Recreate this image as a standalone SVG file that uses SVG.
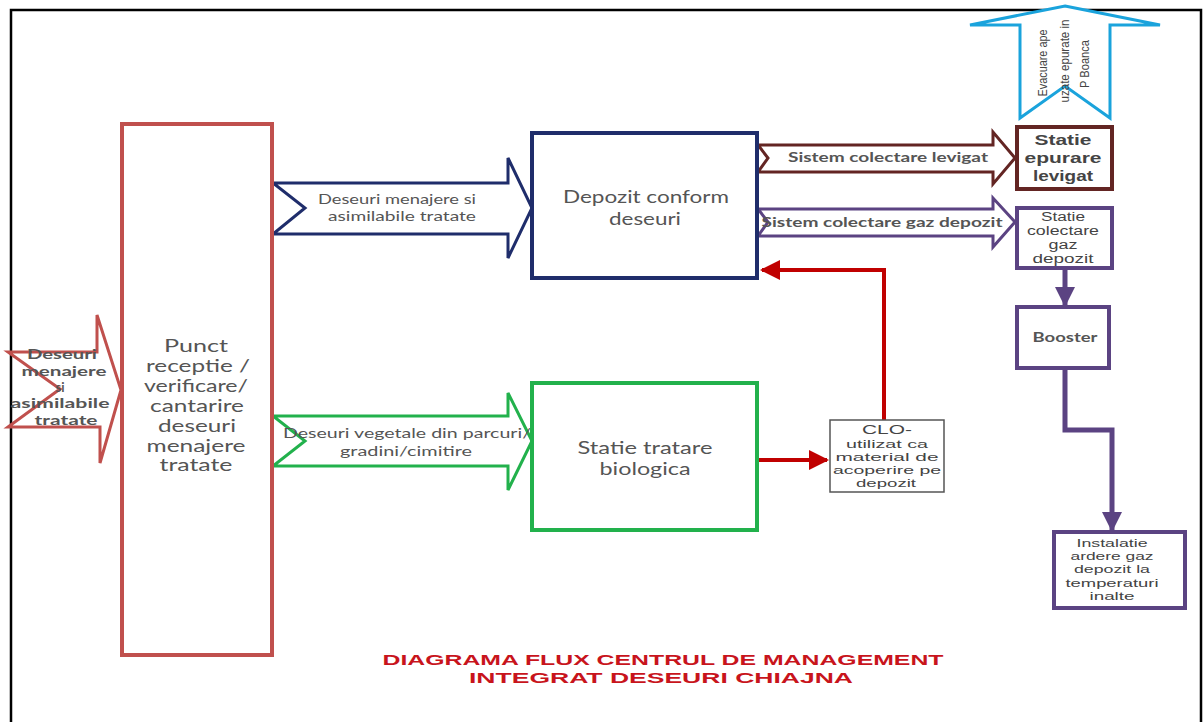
<svg xmlns="http://www.w3.org/2000/svg" width="1204" height="722" viewBox="0 0 1204 722">
<defs>
<style>
.lt{font-family:Lato,"Open Sans",sans-serif;fill:#555;text-anchor:middle}
.ar{font-family:"Liberation Sans",Arial,sans-serif;fill:#444;text-anchor:middle}
.box{fill:#fff;stroke-width:4}
.flow{fill:#fff;stroke-width:3;stroke-linejoin:miter}
.title{font-family:"Liberation Sans",Arial,sans-serif;font-weight:bold;font-size:15.5px;fill:#c8141c;text-anchor:middle}
</style>
<marker id="mRed" viewBox="0 0 10 10" refX="9" refY="5" markerWidth="5" markerHeight="5" orient="auto" markerUnits="strokeWidth"><path d="M0,0 L10,5 L0,10 Z" fill="#c00000"/></marker>
<marker id="mPur" viewBox="0 0 10 10" refX="9" refY="5" markerWidth="4" markerHeight="4" orient="auto" markerUnits="strokeWidth"><path d="M0,0 L10,5 L0,10 Z" fill="#5b4382"/></marker>
</defs>
<rect width="1204" height="722" fill="#fff"/>
<path d="M11,724 L11,10 L1201,10 L1201,724" fill="none" stroke="#000" stroke-width="2.5"/>

<g id="connectors">
<g id="arrow-input">
<path class="flow" d="M8,352 L97,352 L97,315 L121,390 L100,463 L100,427 L8,427 L60,389 Z" stroke="#c0504d"/>
<g class="lt" font-size="13" font-weight="bold" fill="#4a4a4a">
<text x="62" y="359" textLength="70" lengthAdjust="spacingAndGlyphs">Deseuri</text>
<text x="64" y="376" textLength="85" lengthAdjust="spacingAndGlyphs">menajere</text>
<text x="60" y="392">si</text>
<text x="60" y="408" textLength="99" lengthAdjust="spacingAndGlyphs">asimilabile</text>
<text x="66" y="425" textLength="63" lengthAdjust="spacingAndGlyphs">tratate</text>
</g>
</g>
<g id="arrow-menajere">
<path class="flow" d="M273,183 L508,183 L508,158 L532,208 L508,258 L508,234 L273,234 L305,208 Z" stroke="#1f2d6b"/>
<g class="lt" font-size="13.5">
<text x="397" y="204" textLength="158" lengthAdjust="spacingAndGlyphs">Deseuri menajere si</text>
<text x="402" y="221" textLength="148" lengthAdjust="spacingAndGlyphs">asimilabile tratate</text>
</g>
</g>
<g id="arrow-vegetale">
<path class="flow" d="M273,416 L508,416 L508,393 L532,441 L508,490 L508,466 L273,466 L305,441 Z" stroke="#22b14c"/>
<g class="lt" font-size="13.5">
<text x="407" y="438" textLength="248" lengthAdjust="spacingAndGlyphs">Deseuri vegetale din parcuri/</text>
<text x="406" y="456" textLength="132" lengthAdjust="spacingAndGlyphs">gradini/cimitire</text>
</g>
</g>
<g id="arrow-levigat">
<path class="flow" d="M758,145 L993,145 L993,132 L1015,158 L993,184 L993,172 L758,172 L768,158 Z" stroke="#632523"/>
<text class="lt" font-size="13" font-weight="bold" x="888" y="162" textLength="200" lengthAdjust="spacingAndGlyphs">Sistem colectare levigat</text>
</g>
<g id="arrow-gaz">
<path class="flow" d="M758,209 L993,209 L993,198 L1015,222 L993,247 L993,236 L758,236 L768,222 Z" stroke="#5b4382"/>
<text class="lt" font-size="13" font-weight="bold" x="882" y="227" textLength="241" lengthAdjust="spacingAndGlyphs">Sistem colectare gaz depozit</text>
</g>
<g id="arrow-evacuare">
<path class="flow" d="M1065,6 L1160,25 L1110,25 L1110,118 L1065,86 L1020,118 L1020,25 L970,25 Z" stroke="#1aa3dc"/>
<text class="ar" font-size="12" transform="translate(1047,63) rotate(-90)" x="0" y="0" textLength="67" lengthAdjust="spacingAndGlyphs">Evacuare ape</text>
<text class="ar" font-size="12" transform="translate(1069,61) rotate(-90)" x="0" y="0" textLength="83" lengthAdjust="spacingAndGlyphs">uzate epurate in</text>
<text class="ar" font-size="12" transform="translate(1089,64) rotate(-90)" x="0" y="0" textLength="48" lengthAdjust="spacingAndGlyphs">P Boanca</text>
</g>
<path d="M757,460 L827,460" fill="none" stroke="#c00000" stroke-width="4" marker-end="url(#mRed)"/>
<path d="M884,420 L884,270 L762,270" fill="none" stroke="#c00000" stroke-width="4" marker-end="url(#mRed)"/>
<path d="M1065,268 L1065,305" fill="none" stroke="#5b4382" stroke-width="5" marker-end="url(#mPur)"/>
<path d="M1065,368 L1065,430 L1112,430 L1112,530" fill="none" stroke="#5b4382" stroke-width="5" marker-end="url(#mPur)"/>
</g>

<g id="node-punct">
<rect class="box" x="122" y="124" width="150" height="531" stroke="#c0504d"/>
<g class="lt" font-size="16.5">
<text x="196" y="352" textLength="64" lengthAdjust="spacingAndGlyphs">Punct</text>
<text x="198" y="372" textLength="104" lengthAdjust="spacingAndGlyphs">receptie /</text>
<text x="196" y="392" textLength="104" lengthAdjust="spacingAndGlyphs">verificare/</text>
<text x="197" y="412" textLength="94" lengthAdjust="spacingAndGlyphs">cantarire</text>
<text x="197" y="432" textLength="78" lengthAdjust="spacingAndGlyphs">deseuri</text>
<text x="196" y="452" textLength="99" lengthAdjust="spacingAndGlyphs">menajere</text>
<text x="196" y="471" textLength="73" lengthAdjust="spacingAndGlyphs">tratate</text>
</g>
</g>
<g id="node-depozit">
<rect class="box" x="532" y="133" width="225" height="145" stroke="#1f2d6b"/>
<g class="lt" font-size="17">
<text x="646" y="203" textLength="166" lengthAdjust="spacingAndGlyphs">Depozit conform</text>
<text x="645" y="225" textLength="72" lengthAdjust="spacingAndGlyphs">deseuri</text>
</g>
</g>
<g id="node-biologica">
<rect class="box" x="532" y="383" width="225" height="147" stroke="#22b14c"/>
<g class="lt" font-size="17">
<text x="645" y="454" textLength="135" lengthAdjust="spacingAndGlyphs">Statie tratare</text>
<text x="645" y="475" textLength="91" lengthAdjust="spacingAndGlyphs">biologica</text>
</g>
</g>
<g id="node-clo">
<rect x="830" y="420" width="114" height="72" fill="#fff" stroke="#555" stroke-width="1.5"/>
<g class="ar" font-size="11">
<text x="887" y="434" font-size="13" textLength="50" lengthAdjust="spacingAndGlyphs">CLO-</text>
<text x="887" y="448" textLength="82" lengthAdjust="spacingAndGlyphs">utilizat ca</text>
<text x="887" y="461" textLength="103" lengthAdjust="spacingAndGlyphs">material de</text>
<text x="887" y="474" textLength="108" lengthAdjust="spacingAndGlyphs">acoperire pe</text>
<text x="886" y="487" textLength="60" lengthAdjust="spacingAndGlyphs">depozit</text>
</g>
</g>
<g id="node-epurare">
<rect class="box" x="1017" y="127" width="95" height="62" stroke="#632523"/>
<g class="ar" font-size="14.5" font-weight="bold" fill="#555">
<text x="1063" y="145" textLength="57" lengthAdjust="spacingAndGlyphs">Statie</text>
<text x="1063" y="163" textLength="77" lengthAdjust="spacingAndGlyphs">epurare</text>
<text x="1063" y="181" textLength="60" lengthAdjust="spacingAndGlyphs">levigat</text>
</g>
</g>
<g id="node-gaz">
<rect class="box" x="1017" y="208" width="95" height="60" stroke="#5b4382"/>
<g class="ar" font-size="12" fill="#555">
<text x="1063" y="221" textLength="44" lengthAdjust="spacingAndGlyphs">Statie</text>
<text x="1063" y="235" textLength="72" lengthAdjust="spacingAndGlyphs">colectare</text>
<text x="1063" y="249" textLength="29" lengthAdjust="spacingAndGlyphs">gaz</text>
<text x="1063" y="263" textLength="61" lengthAdjust="spacingAndGlyphs">depozit</text>
</g>
</g>
<g id="node-booster">
<rect class="box" x="1017" y="307" width="92" height="61" stroke="#5b4382"/>
<text class="lt" font-size="13.5" font-weight="bold" x="1065" y="342" textLength="65" lengthAdjust="spacingAndGlyphs">Booster</text>
</g>
<g id="node-instalatie">
<rect class="box" x="1054" y="532" width="131" height="76" stroke="#5b4382"/>
<g class="ar" font-size="11" fill="#444">
<text x="1112" y="547" textLength="71" lengthAdjust="spacingAndGlyphs">Instalatie</text>
<text x="1112" y="560" textLength="83" lengthAdjust="spacingAndGlyphs">ardere gaz</text>
<text x="1112" y="573" textLength="76" lengthAdjust="spacingAndGlyphs">depozit la</text>
<text x="1112" y="587" textLength="93" lengthAdjust="spacingAndGlyphs">temperaturi</text>
<text x="1112" y="600" textLength="45" lengthAdjust="spacingAndGlyphs">inalte</text>
</g>
</g>
<g id="title">
<text class="title" x="663" y="665" textLength="561" lengthAdjust="spacingAndGlyphs">DIAGRAMA FLUX CENTRUL DE MANAGEMENT</text>
<text class="title" x="661" y="683" textLength="384" lengthAdjust="spacingAndGlyphs">INTEGRAT DESEURI CHIAJNA</text>
</g>
</svg>
